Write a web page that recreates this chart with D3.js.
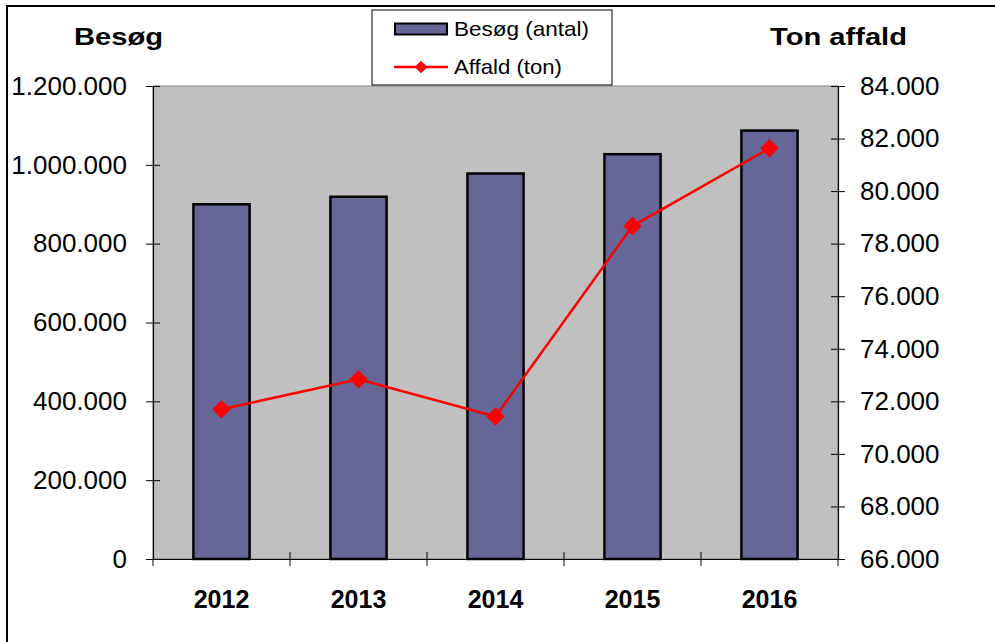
<!DOCTYPE html>
<html>
<head>
<meta charset="utf-8">
<script src="https://cdn.jsdelivr.net/npm/d3@7"></script>
<style>
  body { margin: 0; background: #fff; }
  svg text { font-family: Arial, "Liberation Sans", sans-serif; }
</style>
</head>
<body>
<svg id="chart" width="995" height="642"></svg>
<script>
// data
const years = ["2012", "2013", "2014", "2015", "2016"];
const visits = [900000, 919000, 978000, 1027000, 1087000];
const waste = [71700, 72840, 71420, 78670, 81630];
const leftTicks = [0, 200000, 400000, 600000, 800000, 1000000, 1200000];
const rightTicks = [66000, 68000, 70000, 72000, 74000, 76000, 78000, 80000, 82000, 84000];

const svg = d3.select("#chart");
const W = 995, H = 642;
const plot = {left: 153, right: 838, top: 86, bottom: 559};

const da = d3.formatLocale({decimal: ",", thousands: ".", grouping: [3], currency: ["", " kr"]});
const fmt = da.format(",d");

const x = d3.scaleBand().domain(years).range([plot.left, plot.right]);
const yL = d3.scaleLinear().domain([0, 1200000]).range([plot.bottom, plot.top]);
const yR = d3.scaleLinear().domain([66000, 84000]).range([plot.bottom, plot.top]);

svg.append("rect").attr("width", W).attr("height", H).attr("fill", "#fff");
// outer chart frame (clipped on the right and bottom)
svg.append("rect")
  .attr("x", 7).attr("y", 6).attr("width", W + 20).attr("height", H + 20)
  .attr("fill", "none").attr("stroke", "#000").attr("stroke-width", 2);

// plot area
svg.append("rect")
  .attr("x", plot.left).attr("y", plot.top)
  .attr("width", plot.right - plot.left).attr("height", plot.bottom - plot.top)
  .attr("fill", "#c0c0c0").attr("stroke", "#808080").attr("stroke-width", 1);

// bars
const barW = x.bandwidth() * 0.41;
svg.append("g").selectAll("rect")
  .data(years)
  .join("rect")
  .attr("x", d => x(d) + x.bandwidth() / 2 - barW / 2)
  .attr("y", (d, i) => yL(visits[i]))
  .attr("width", barW)
  .attr("height", (d, i) => yL(0) - yL(visits[i]))
  .attr("fill", "#666699")
  .attr("stroke", "#000")
  .attr("stroke-width", 2.5);

// axes
const tick = 7;
const gL = svg.append("g")
  .attr("transform", `translate(${plot.left},0)`)
  .call(d3.axisLeft(yL).tickValues(leftTicks).tickFormat(fmt).tickSize(tick).tickPadding(19));
gL.selectAll(".tick line").attr("x1", tick);
const gR = svg.append("g")
  .attr("transform", `translate(${plot.right},0)`)
  .call(d3.axisRight(yR).tickValues(rightTicks).tickFormat(fmt).tickSize(tick).tickPadding(15));
gR.selectAll(".tick line").attr("x1", -tick);
const gB = svg.append("g")
  .attr("transform", `translate(0,${plot.bottom})`)
  .call(d3.axisBottom(x).tickSize(0).tickPadding(31));
gB.selectAll("text").attr("font-weight", "bold").attr("font-size", 25);
// category boundary ticks
gB.selectAll(".sep")
  .data(years.concat(["end"]))
  .join("line")
  .attr("x1", (d, i) => plot.left + i * x.step())
  .attr("x2", (d, i) => plot.left + i * x.step())
  .attr("y1", (d, i) => (i === 0 || i === years.length) ? 0 : -tick)
  .attr("y2", tick)
  .attr("stroke", "#000");

[gL, gR, gB].forEach(g => {
  g.selectAll(".domain").attr("stroke", "#000").attr("stroke-width", 1.2);
  g.selectAll(".tick line").attr("stroke", "#000");
  g.selectAll("text").attr("fill", "#000").style("font-family", "Arial, 'Liberation Sans', sans-serif");
});
gL.selectAll("text").attr("font-size", 26);
gR.selectAll("text").attr("font-size", 26);

// waste line
const line = d3.line()
  .x((d, i) => x(years[i]) + x.bandwidth() / 2)
  .y(d => yR(d));
svg.append("path")
  .datum(waste)
  .attr("d", line)
  .attr("fill", "none")
  .attr("stroke", "#ff0000")
  .attr("stroke-width", 2.5);
const diamond = d3.symbol().type(d3.symbolSquare).size(170);
svg.append("g").selectAll("path")
  .data(waste)
  .join("path")
  .attr("d", diamond)
  .attr("transform", (d, i) => `translate(${x(years[i]) + x.bandwidth() / 2},${yR(d)}) rotate(45)`)
  .attr("fill", "#ff0000");

// axis titles (slightly wide lettering, as in the source)
svg.append("text").attr("x", 74).attr("y", 45)
  .attr("font-size", 24.5).attr("font-weight", "bold")
  .attr("textLength", 89).attr("lengthAdjust", "spacingAndGlyphs").text("Besøg");
svg.append("text").attr("x", 770).attr("y", 45)
  .attr("font-size", 24.5).attr("font-weight", "bold")
  .attr("textLength", 137).attr("lengthAdjust", "spacingAndGlyphs").text("Ton affald");

// legend
const lg = svg.append("g");
lg.append("rect").attr("x", 372).attr("y", 10).attr("width", 240).attr("height", 75)
  .attr("fill", "#fff").attr("stroke", "#000").attr("stroke-width", 1);
lg.append("rect").attr("x", 395).attr("y", 23.5).attr("width", 52).attr("height", 11)
  .attr("fill", "#666699").attr("stroke", "#000").attr("stroke-width", 2);
lg.append("text").attr("x", 454).attr("y", 36).attr("font-size", 21)
  .attr("textLength", 135).attr("lengthAdjust", "spacingAndGlyphs").text("Besøg (antal)");
lg.append("line").attr("x1", 394).attr("x2", 448).attr("y1", 67).attr("y2", 67)
  .attr("stroke", "#ff0000").attr("stroke-width", 2.5);
lg.append("path").attr("d", d3.symbol().type(d3.symbolSquare).size(80))
  .attr("transform", "translate(421,67) rotate(45)").attr("fill", "#ff0000");
lg.append("text").attr("x", 454).attr("y", 74).attr("font-size", 21)
  .attr("textLength", 108).attr("lengthAdjust", "spacingAndGlyphs").text("Affald (ton)");
</script>
</body>
</html>
